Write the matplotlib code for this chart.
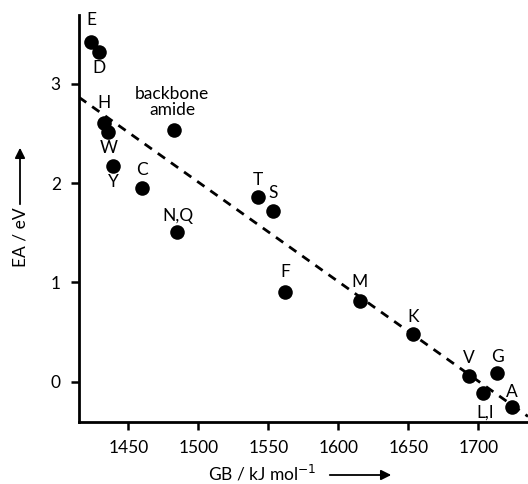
import matplotlib
matplotlib.use('Agg')
import matplotlib.pyplot as plt

plt.rcParams['font.family'] = ['Lato', 'DejaVu Sans']

# Amino acid data: gas-phase basicity vs electron affinity
labels = ['E', 'D', 'H', 'W', 'Y', 'C', 'backbone\namide', 'N,Q', 'T', 'S',
          'F', 'M', 'K', 'V', 'G', 'L,I', 'A']
gb = [1423.4, 1429.1, 1432.9, 1435.7, 1439.3, 1460.0, 1482.7, 1485.0, 1542.9,
      1553.2, 1562.2, 1615.5, 1653.6, 1693.4, 1713.4, 1703.6, 1724.3]
ea = [3.42, 3.325, 2.604, 2.514, 2.17, 1.956, 2.537, 1.507, 1.859,
      1.724, 0.906, 0.809, 0.477, 0.057, 0.085, -0.117, -0.252]

# linear fit (dashed)
fit_x = [1414.8, 1735.5]
fit_y = [2.866, -0.35]

# label offsets in pixels (dx, dy)
offsets = {'E': (0, 22), 'D': (0, -16), 'H': (0, 20), 'W': (0, -16),
           'Y': (0, -16), 'C': (0, 18), 'backbone\namide': (-2, 28),
           'N,Q': (1, 16), 'T': (0, 17), 'S': (0, 18), 'F': (0, 20),
           'M': (0, 19), 'K': (0, 17), 'V': (0, 18), 'G': (0, 16),
           'L,I': (2, -19), 'A': (0, 15)}

fig = plt.figure(figsize=(5.28, 4.84), dpi=100)
ax = fig.add_axes([0.1496, 0.1287, 0.8504, 0.8403])

ax.plot(fit_x, fit_y, color='black', linestyle=(0, (3.2, 2.6)), linewidth=2)
ax.scatter(gb, ea, s=110, color='black', zorder=3, linewidths=0)

for lab, x, y in zip(labels, gb, ea):
    dx, dy = offsets[lab]
    ax.annotate(lab, (x, y), xytext=(dx, dy), textcoords='offset pixels',
                ha='center', va='center', fontsize=12.5, linespacing=0.95)

ax.set_xlim(1414.8, 1735.5)
ax.set_ylim(-0.403, 3.695)
ax.set_xticks([1450, 1500, 1550, 1600, 1650, 1700])
ax.set_yticks([0, 1, 2, 3])

for side in ['top', 'right']:
    ax.spines[side].set_visible(False)
for side in ['left', 'bottom']:
    ax.spines[side].set_linewidth(2)
ax.tick_params(direction='out', length=6, width=1.8, labelsize=12.5, pad=7)

# axis labels with arrows
fig.text(262 / 528, 1 - 473 / 484, 'GB / kJ mol$^{-1}$', ha='center', va='center',
         fontsize=12.5)
fig.text(20 / 528, 1 - 237 / 484, 'EA / eV', ha='center', va='center',
         rotation=90, fontsize=12.5)
fig.add_artist(matplotlib.patches.FancyArrowPatch(
    (327 / 528, 1 - 475 / 484), (394 / 528, 1 - 475 / 484),
    transform=fig.transFigure, arrowstyle='-|>,head_length=6,head_width=3',
    color='black', linewidth=1.3))
fig.add_artist(matplotlib.patches.FancyArrowPatch(
    (20 / 528, 1 - 207 / 484), (20 / 528, 1 - 145 / 484),
    transform=fig.transFigure, arrowstyle='-|>,head_length=6,head_width=3',
    color='black', linewidth=1.3))

fig.savefig('out.png', dpi=100)
